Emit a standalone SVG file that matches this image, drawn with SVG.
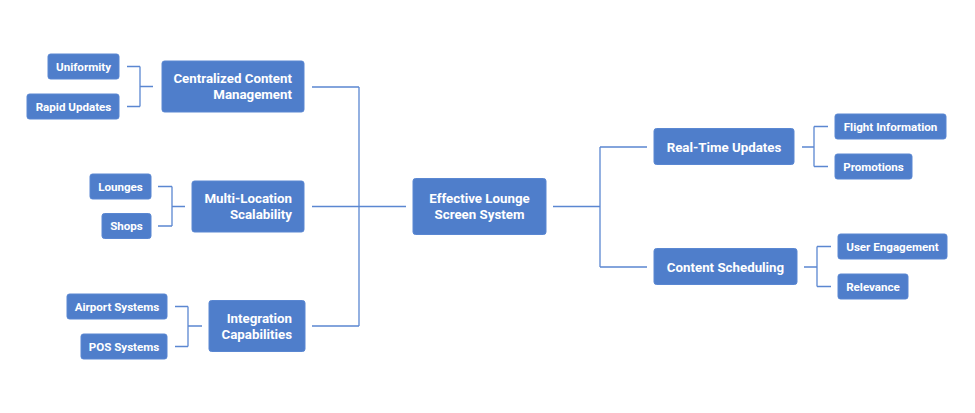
<svg xmlns="http://www.w3.org/2000/svg" width="975" height="413" viewBox="0 0 975 413">
<style>
.box{fill:#4f7ecb;stroke:#5a87d2;stroke-width:1}
.t{font-family:Roboto,"Liberation Sans",sans-serif;font-weight:bold;fill:#ffffff}
.m{font-size:13.3px}
.s{font-size:11.6px;text-anchor:middle}
.c{text-anchor:middle}
.r{text-anchor:end}
.ln{fill:none;stroke:#5b87d1;stroke-width:1.3}
</style>
<rect width="975" height="413" fill="#ffffff"/>
<g id="connectors" class="ln">
<path d="M312 87H359M312 206.5H406M312 326H359M359 87V326"/>
<path d="M553 206.5H600M600 147V267M600 147H647M600 267H647"/>
<path d="M127 66.5H140M127 106.5H140M140 66.5V106.5M140 86.5H153"/>
<path d="M158 186.5H172M158 226H172M172 186.5V226M172 206.5H185"/>
<path d="M175 306.5H188M175 346.5H188M188 306.5V346.5M188 326H202"/>
<path d="M802 147H814M814 126.5V166.5M814 126.5H828M814 166.5H828"/>
<path d="M804 267H817M817 246.5V286.5M817 246.5H831M817 286.5H831"/>
</g>
<g id="n-root"><rect class="box" x="413" y="178.5" width="133" height="56" rx="2.5"/><text class="t m c" x="479.5" y="202.5">Effective Lounge</text><text class="t m c" x="479.5" y="218.5">Screen System</text></g>
<g id="n-ccm"><rect class="box" x="162" y="61" width="142" height="51" rx="2.5"/><text class="t m r" x="292" y="83">Centralized Content</text><text class="t m r" x="292" y="99">Management</text></g>
<g id="n-mls"><rect class="box" x="192" y="181" width="112" height="51" rx="2.5"/><text class="t m r" x="292" y="203">Multi-Location</text><text class="t m r" x="292" y="219">Scalability</text></g>
<g id="n-ic"><rect class="box" x="209" y="300.5" width="96" height="51" rx="2.5"/><text class="t m r" x="292" y="322.5">Integration</text><text class="t m r" x="292" y="338.5">Capabilities</text></g>
<g id="n-rtu"><rect class="box" x="654" y="128.5" width="140" height="36" rx="2.5"/><text class="t m c" x="724" y="151.5">Real-Time Updates</text></g>
<g id="n-cs"><rect class="box" x="654" y="248.5" width="143" height="36" rx="2.5"/><text class="t m c" x="725.5" y="271.5">Content Scheduling</text></g>
<g id="n-uniformity"><rect class="box" x="48" y="54" width="71" height="25" rx="2.5"/><text class="t s" x="83.5" y="70.7">Uniformity</text></g>
<g id="n-rapid"><rect class="box" x="27" y="94" width="92" height="25" rx="2.5"/><text class="t s" x="73.5" y="110.7">Rapid Updates</text></g>
<g id="n-lounges"><rect class="box" x="90" y="174" width="61" height="25" rx="2.5"/><text class="t s" x="120.5" y="190.7">Lounges</text></g>
<g id="n-shops"><rect class="box" x="102" y="213.5" width="49" height="25" rx="2.5"/><text class="t s" x="126.5" y="230.2">Shops</text></g>
<g id="n-airport"><rect class="box" x="67" y="294" width="100" height="25" rx="2.5"/><text class="t s" x="117" y="310.7">Airport Systems</text></g>
<g id="n-pos"><rect class="box" x="81" y="334" width="86" height="25" rx="2.5"/><text class="t s" x="124" y="350.7">POS Systems</text></g>
<g id="n-flight"><rect class="box" x="835" y="114" width="111" height="25" rx="2.5"/><text class="t s" x="890.5" y="130.7">Flight Information</text></g>
<g id="n-promo"><rect class="box" x="835" y="154" width="77" height="25" rx="2.5"/><text class="t s" x="873.5" y="170.7">Promotions</text></g>
<g id="n-user"><rect class="box" x="838" y="234" width="109" height="25" rx="2.5"/><text class="t s" x="892.5" y="250.7">User Engagement</text></g>
<g id="n-relevance"><rect class="box" x="838" y="274" width="70" height="25" rx="2.5"/><text class="t s" x="873" y="290.7">Relevance</text></g>
</svg>
